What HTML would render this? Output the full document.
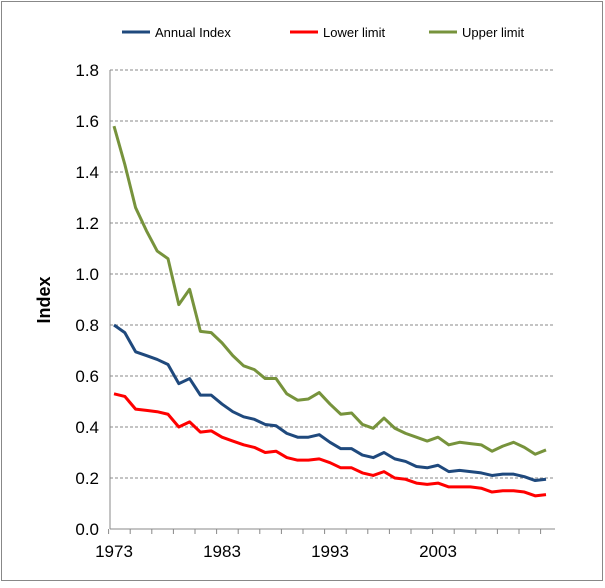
<!DOCTYPE html>
<html><head><meta charset="utf-8"><style>
body{margin:0;background:#fff;font-family:"Liberation Sans",Arial,sans-serif}
</style></head><body>
<svg id="c" width="605" height="583" xmlns="http://www.w3.org/2000/svg">
<rect x="1.5" y="1.5" width="601" height="579" fill="#fff" stroke="#888"/>
</svg>
<script>
const years=[];for(let y=1973;y<=2013;y++)years.push(y);
const annualIndex=[0.80,0.77,0.695,0.68,0.665,0.645,0.57,0.59,0.525,0.525,0.49,0.46,0.44,0.43,0.41,0.405,0.375,0.36,0.36,0.37,0.34,0.315,0.315,0.29,0.28,0.30,0.275,0.265,0.245,0.24,0.25,0.225,0.23,0.225,0.22,0.21,0.215,0.215,0.205,0.19,0.195];
const lowerLimit=[0.53,0.52,0.47,0.465,0.46,0.45,0.40,0.42,0.38,0.385,0.36,0.345,0.33,0.32,0.30,0.305,0.28,0.27,0.27,0.275,0.26,0.24,0.24,0.22,0.21,0.225,0.20,0.195,0.18,0.175,0.18,0.165,0.165,0.165,0.16,0.145,0.15,0.15,0.145,0.13,0.135];
const upperLimit=[1.58,1.43,1.26,1.17,1.09,1.06,0.88,0.94,0.775,0.77,0.73,0.68,0.64,0.625,0.59,0.59,0.53,0.505,0.51,0.535,0.49,0.45,0.455,0.41,0.395,0.435,0.395,0.375,0.36,0.345,0.36,0.33,0.34,0.335,0.33,0.305,0.325,0.34,0.32,0.293,0.31];
const yTicks=[0,0.2,0.4,0.6,0.8,1.0,1.2,1.4,1.6,1.8];
const xLabels=[1973,1983,1993,2003];
const NS="http://www.w3.org/2000/svg",svg=document.getElementById('c');
const X=y=>114+(y-1973)*10.8, Y=v=>529-v*255;
function el(t,a,p){const e=document.createElementNS(NS,t);for(const k in a)e.setAttribute(k,a[k]);(p||svg).appendChild(e);return e;}
yTicks.forEach(v=>{
 if(v>0){const g=el('line',{x1:110,x2:555,y1:Y(v),y2:Y(v),stroke:'#888','stroke-dasharray':'3,2','stroke-width':1});
 
 }
 const t=el('text',{x:99,y:Y(v)+6,'text-anchor':'end','font-size':17,fill:'#000'});t.textContent=v.toFixed(1);
 
 
});
const ax=el('line',{x1:110,x2:110,y1:Y(1.8),y2:529,stroke:'#888'});


const bx=el('line',{x1:110,x2:555,y1:529,y2:529,stroke:'#888'});


for(let i=0;i<=years.length;i+=2){const tk=el('line',{x1:X(1973+i)-5.4,x2:X(1973+i)-5.4,y1:529,y2:534,stroke:'#888'});
 
 }
xLabels.forEach(y=>{const t=el('text',{x:X(y),y:557,'text-anchor':'middle','font-size':17});t.textContent=y;
 
 });
const yt=el('text',{x:0,y:0,transform:'translate(50,300) rotate(-90)','text-anchor':'middle','font-size':18,'font-weight':'bold'});yt.textContent='Index';


function series(d,c,n){const p=el('polyline',{points:d.map((v,i)=>X(years[i])+','+Y(v)).join(' '),fill:'none',stroke:c,'stroke-width':3,'stroke-linejoin':'round'});
 
 }
series(upperLimit,'#77933c','upper-limit-line');
series(lowerLimit,'#ff0000','lower-limit-line');
series(annualIndex,'#1f497d','annual-index-line');
[['Annual Index','#1f497d',122],['Lower limit','#ff0000',290],['Upper limit','#77933c',429]].forEach(([n,c,x])=>{
 const g=el('g',{});
 
 
 el('line',{x1:x,x2:x+28,y1:32,y2:32,stroke:c,'stroke-width':3},g);
 const t=el('text',{x:x+33,y:37,'font-size':13},g);t.textContent=n;
});
</script>
</body></html>
